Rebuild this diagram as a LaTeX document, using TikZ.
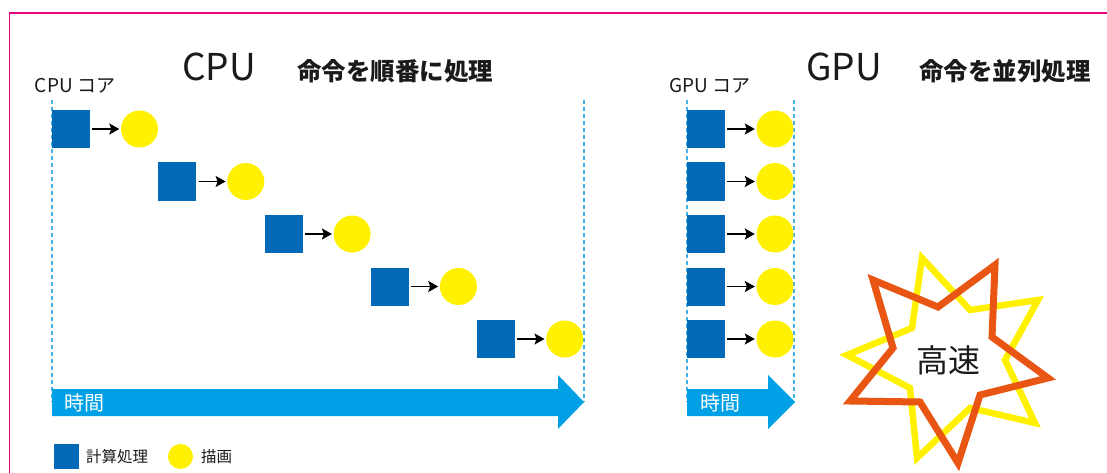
\documentclass[tikz,border=0pt]{standalone}
\usepackage{fontspec}
\setmainfont{Noto Sans CJK JP}
\usetikzlibrary{arrows.meta}
\definecolor{framec}{HTML}{E4007F}
\definecolor{sqblue}{HTML}{006AB6}
\definecolor{cyel}{HTML}{FFF100}
\definecolor{tblue}{HTML}{00A0E6}
\definecolor{dashc}{HTML}{45B0E6}
\definecolor{orng}{HTML}{E95513}
\definecolor{txt}{HTML}{1A1A1A}
\newcommand{\fs}[1]{\fontsize{#1}{#1}\selectfont}
\tikzset{
  sq/.style={fill=sqblue, minimum size=38pt, inner sep=0pt, draw=none},
  dot/.style={circle, fill=cyel, minimum size=37pt, inner sep=0pt, draw=none},
  conn/.style={-{Stealth[length=10pt,width=11pt,inset=2pt]}, line width=1.4pt, shorten <=2pt, shorten >=1.5pt},
  vline/.style={dashc, line width=1.1pt, dash pattern=on 4pt off 3pt},
  timearrow/.style={fill=tblue, draw=none},
  timelabel/.style={text=white, font=\fs{20}, inner sep=0pt, anchor=west},
  title/.style={text=txt, font=\fs{37}, inner sep=0pt},
  subtitle/.style={text=txt, font=\fs{24.5}\bfseries, inner sep=0pt},
  corelabel/.style={text=txt, font=\fs{19}, inner sep=0pt},
  legendtext/.style={text=txt, font=\fs{15.5}, inner sep=0pt, anchor=west},
}
\begin{document}
\begin{tikzpicture}[x=1pt,y=-1pt]
\useasboundingbox (0,0) rectangle (1107,473);
% frame
\draw[framec, line width=1.5pt] (9.5,473) -- (9.5,13) -- (1107,13);

% ---------- CPU ----------
\node[title] (cputitle) at (219,67) {CPU};
\node[subtitle] (cpusub) at (395,71) {命令を順番に処理};
\node[corelabel] (cpucore) at (75,86) {CPU コア};

\coordinate (cdl1) at (52,100);
\coordinate (cdl2) at (52,402);
\coordinate (cdr1) at (584,100);
\coordinate (cdr2) at (584,402);
\draw[vline] (cdl1) -- (cdl2);
\draw[vline] (cdr1) -- (cdr2);

\foreach \i in {1,...,5}{
  \pgfmathsetmacro{\sx}{71+106.3*(\i-1)}
  \pgfmathsetmacro{\sy}{129+52.5*(\i-1)}
  \pgfmathsetmacro{\cx}{\sx+68.5}
  \node[sq] (cs\i) at (\sx,\sy) {};
  \node[dot] (cc\i) at (\cx,\sy) {};
  \draw[conn] (cs\i) -- (cc\i);
}

\fill[timearrow] (52,389) -- (558,389) -- (558,375) -- (584,402) -- (558,429) -- (558,416) -- (52,416) -- cycle;
\node[timelabel] (cputime) at (64,403) {時間};

% legend
\node[sq, minimum size=25pt] (legsq) at (66.5,456.5) {};
\node[legendtext] (legsqt) at (86,456.5) {計算処理};
\node[dot, minimum size=25pt] (legdot) at (180.5,456.5) {};
\node[legendtext] (legdott) at (201,456.5) {描画};

% ---------- GPU ----------
\node[title] (gputitle) at (844,67) {GPU};
\node[subtitle] (gpusub) at (1005,71) {命令を並列処理};
\node[corelabel] (gpucore) at (710,86) {GPU コア};

\coordinate (gdl1) at (687,100);
\coordinate (gdl2) at (687,402);
\coordinate (gdr1) at (794,100);
\coordinate (gdr2) at (794,402);
\draw[vline] (gdl1) -- (gdl2);
\draw[vline] (gdr1) -- (gdr2);

\foreach \i in {1,...,5}{
  \pgfmathsetmacro{\sy}{129+52.5*(\i-1)}
  \node[sq] (gs\i) at (706,\sy) {};
  \node[dot] (gc\i) at (775,\sy) {};
  \draw[conn] (gs\i) -- (gc\i);
}

\fill[timearrow] (687,389) -- (768,389) -- (768,375) -- (795,402) -- (768,429) -- (768,416) -- (687,416) -- cycle;
\node[timelabel] (gputime) at (700,403) {時間};

% burst
\draw[cyel, line width=6.5pt, line join=miter, miter limit=10]
  (922,258) -- (970,310) -- (1038,300) -- (1005,360) -- (1035,423) -- (970,408)
  -- (917,458) -- (910,388) -- (847,355) -- (912,328) -- cycle;
\draw[orng, line width=7pt, line join=miter, miter limit=10]
  (873,280) -- (938,307) -- (995,265) -- (992,337) -- (1048,378) -- (980,395)
  -- (958,463) -- (920,402) -- (850,401) -- (893,348) -- cycle;
\node[text=txt, font=\fs{32}, inner sep=0pt] (fast) at (948,360) {高速};
\end{tikzpicture}
\end{document}
